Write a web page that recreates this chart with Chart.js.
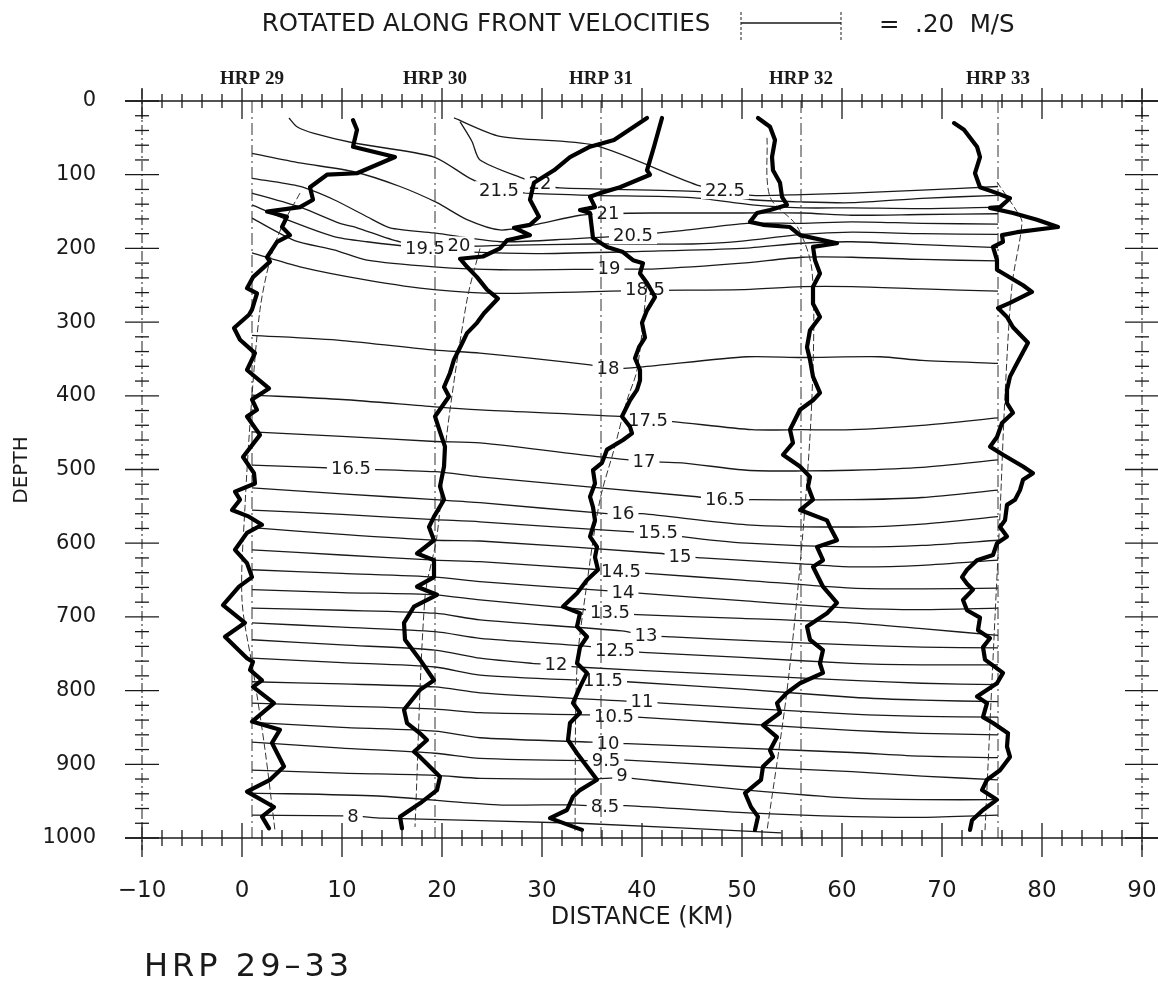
<!DOCTYPE html>
<html><head><meta charset="utf-8">
<script src="https://cdn.jsdelivr.net/npm/chart.js@4.4.0/dist/chart.umd.min.js"></script>
<style>html,body{margin:0;padding:0;background:#fff;}canvas{display:block;}</style>
</head><body>
<canvas id="c" width="1158" height="981"></canvas>
<script>
// ---------------- DATA ----------------
const stationNames = ['HRP 29','HRP 30','HRP 31','HRP 32','HRP 33'];
const stationDist = [1.0, 19.3, 35.9, 55.9, 75.6];
const xTicks = [-10,0,10,20,30,40,50,60,70,80,90];
const yTicks = [0,100,200,300,400,500,600,700,800,900,1000];
const scaleBarKm = 10; // 0.20 m/s

// velocity profiles [distance km, depth m]
const prof29 = [[11.1,26],[11.5,39],[11.1,62],[15.3,76],[11.5,98],[8.5,100],[6.8,117],[7.1,134],[5.8,144],[2.5,150],[4.5,157],[4.0,171],[4.8,182],[3.5,191],[2.5,212],[2.8,218],[1.1,239],[0.5,254],[1.5,261],[1.0,283],[0.7,290],[-0.8,308],[-0.2,324],[1.3,342],[0.5,365],[2.7,390],[1.0,405],[1.5,419],[0.5,428],[1.8,453],[0.1,483],[1.2,505],[1.3,519],[-0.7,530],[-0.2,541],[-1.0,555],[0.7,564],[2.0,575],[0.5,586],[-0.7,609],[0.5,627],[1.0,646],[-0.3,659],[-1.9,684],[0.3,708],[-1.7,727],[0.5,756],[1.1,761],[0.8,772],[2.0,786],[1.1,795],[3.2,817],[1.0,842],[3.8,853],[3.0,871],[4.2,903],[2.8,921],[0.5,937],[3.2,958],[2.0,971],[2.7,987]];
const prof30 = [[40.5,23],[37.2,53],[34.8,62],[32.8,76],[31.2,94],[29.2,111],[28.8,134],[29.7,157],[28.8,168],[27.2,172],[28.8,182],[26.5,189],[25.8,200],[24.1,211],[21.8,214],[22.5,225],[23.5,239],[24.5,256],[25.6,268],[24.2,288],[23.5,301],[22.5,315],[22.0,329],[21.2,351],[20.8,369],[20.2,388],[20.7,401],[19.3,428],[19.8,449],[20.3,469],[20.2,496],[19.8,523],[20.2,541],[19.2,564],[18.7,578],[19.2,596],[17.5,614],[19.2,623],[19.2,646],[17.5,659],[19.5,670],[17.2,686],[16.2,708],[16.3,731],[17.8,758],[19.2,786],[17.8,799],[16.2,826],[16.5,844],[17.8,858],[18.5,867],[17.2,883],[17.8,890],[19.8,917],[19.5,935],[17.8,953],[15.8,971],[16.0,987]];
const prof31 = [[42.0,23],[41.2,62],[40.5,94],[40.8,100],[37.8,117],[35.8,125],[34.8,130],[35.3,144],[33.8,148],[34.8,152],[35.1,186],[36.5,198],[38.1,205],[39.1,216],[40.1,220],[39.8,234],[40.5,247],[41.3,266],[40.5,284],[40.0,301],[40.3,321],[39.7,334],[39.3,349],[39.8,365],[39.8,379],[39.5,392],[38.8,406],[38.0,428],[38.8,442],[39.0,451],[38.1,460],[36.5,473],[36.0,491],[35.1,501],[35.3,519],[34.8,537],[35.1,551],[35.3,569],[34.8,591],[35.5,605],[35.3,619],[35.6,636],[34.5,650],[33.5,668],[32.1,686],[33.8,695],[33.5,713],[34.5,727],[33.8,741],[33.5,763],[34.5,776],[33.8,795],[33.1,817],[33.8,830],[32.8,844],[32.6,867],[33.5,885],[34.5,903],[35.5,921],[33.8,935],[33.1,944],[32.5,962],[30.8,973],[34.0,989]];
const prof32 = [[51.6,23],[52.8,35],[53.3,53],[53.0,76],[53.1,94],[53.8,111],[54.0,130],[54.5,141],[52.8,148],[51.5,152],[50.8,164],[52.1,168],[54.8,171],[55.8,182],[59.5,193],[57.1,198],[57.3,216],[57.8,234],[57.1,252],[57.1,275],[57.8,293],[56.8,311],[56.5,334],[56.8,351],[57.1,374],[57.8,396],[57.1,406],[55.8,419],[54.8,446],[55.1,464],[54.1,480],[55.8,496],[56.8,510],[56.6,523],[57.1,541],[55.8,555],[58.5,569],[58.8,578],[59.5,596],[57.5,605],[58.1,623],[57.1,632],[58.1,659],[59.5,681],[58.5,695],[56.5,713],[56.8,731],[58.1,745],[57.8,763],[58.1,776],[55.8,790],[54.5,803],[53.5,817],[53.8,830],[52.1,847],[53.5,863],[52.8,881],[53.1,890],[52.1,903],[51.9,921],[50.3,939],[50.9,958],[51.6,971],[51.3,989]];
const prof33 = [[71.2,30],[72.2,39],[73.5,62],[73.8,76],[73.3,98],[73.8,117],[75.5,125],[76.8,132],[75.8,144],[74.8,145],[77.1,152],[79.5,161],[81.6,171],[77.5,178],[76.0,182],[76.1,191],[75.1,198],[75.5,216],[75.5,229],[78.1,250],[79.0,259],[76.8,274],[75.6,281],[76.5,293],[77.1,307],[78.6,328],[77.3,361],[76.8,374],[76.5,392],[76.5,410],[77.1,423],[76.0,437],[75.5,456],[74.8,469],[76.1,480],[78.1,496],[79.1,505],[78.1,514],[77.8,528],[77.3,541],[76.5,548],[76.3,569],[75.8,578],[76.5,591],[75.5,600],[75.1,616],[73.5,623],[72.5,636],[72.0,646],[72.5,655],[73.1,663],[72.1,677],[72.5,691],[73.8,701],[73.6,718],[74.8,729],[74.1,741],[74.3,758],[76.1,776],[75.5,790],[73.5,808],[74.5,817],[74.1,836],[75.1,844],[76.6,858],[76.5,876],[76.8,890],[75.8,908],[74.5,921],[74.0,935],[75.5,948],[74.1,962],[73.0,976],[72.8,989]];

// thin reference lines near each station
const thin29 = [[5.8,125],[4.0,170],[2.8,216],[1.8,283],[1.0,400],[0.3,550],[0.0,677],[1.2,780],[2.3,880],[3.3,990]];
const thin30 = [[23.8,200],[22.5,270],[20.5,450],[19.5,590],[18.3,673],[17.3,985]];
const thin31 = [[40.5,250],[39.5,365],[38.5,406],[37.2,473],[35.8,541],[34.5,654],[33.5,768],[33.3,990]];
const thin32 = [[52.5,50],[52.8,130],[55.5,170],[57.0,230],[57.0,400],[56.0,600],[54.5,800],[52.5,990]];
const thin33 = [[75.5,110],[77.5,150],[78.0,165],[77.0,250],[76.3,400],[75.8,560],[75.3,700],[74.3,990]];

// isotherms [distance km, depth m]
const iso22_5 = [[21.2,23],[25.8,48],[35.2,60],[45.5,114],[48.3,121],[51,128],[56,127],[61,125],[68,121],[75.6,116]];
const iso22 = [[21.8,28],[23.0,55],[23.8,80],[28.1,105],[29.8,112],[31.8,118],[45.8,123],[51,134],[56,137],[61,138],[68,132],[75.6,128]];
const iso21_5 = [[4.7,23],[5.5,35],[7.2,44],[11.2,57],[19.2,76],[22.8,105],[25.7,121],[28.5,125],[35,128],[45,131],[51,141],[56,145],[61,145],[68,146],[75.6,144]];
const iso21 = [[1,71],[5.8,84],[11.2,96],[15.8,116],[19.5,138],[22.5,161],[25.8,175],[29.2,168],[33.8,155],[36.6,153],[41,152],[50,152],[56,152],[61,155],[68,154],[75.6,153]];
const iso20_5 = [[1,105],[5.8,116],[9.2,134],[12.5,157],[14.8,172],[19.2,179],[25.8,191],[33,187],[39.1,182],[44,176],[50.5,166],[56,166],[61,164],[68,166],[75.6,167]];
const iso20 = [[1,125],[5.8,144],[9.8,166],[11.5,172],[15.8,191],[21.5,197],[25.8,196],[35,194],[45,194],[50,190],[56,181],[61,178],[68,180],[75.6,181]];
const iso19_5 = [[1,141],[4.5,161],[9.2,184],[12.5,191],[18.5,200],[23,205],[30,207],[40,204],[50,200],[56,193],[61,191],[68,195],[75.6,199]];
const iso19 = [[1,159],[5.2,189],[9.2,202],[12.5,216],[19.2,225],[25.8,229],[36.7,228],[41,228],[50,220],[56,212],[61,212],[68,215],[75.6,217]];
const iso18_5 = [[1,206],[5.8,225],[12.5,243],[19.2,256],[25.8,261],[40.3,257],[50,256],[56,252],[61,252],[68,255],[75.6,258]];
const iso18 = [[1,318],[10,325],[19.3,338],[23.8,342],[34.8,358],[36.6,363],[39.8,361],[50.5,347],[56,348],[63.8,347],[68,352],[75.6,356]];
const iso17_5 = [[1,399],[10,405],[19.3,415],[23.8,419],[37.8,428],[40.6,433],[43.1,435],[51,446],[56,446],[61,446],[68,440],[75.6,430]];
const iso17 = [[1,449],[10,455],[19.3,462],[23.8,464],[35.8,483],[40.2,489],[44,491],[50.5,501],[56,502],[61,501],[68,497],[75.6,487]];
const iso16_5 = [[1,494],[10.9,499],[19.3,503],[23.8,510],[45.5,537],[48.3,541],[51,541],[61,541],[68,538],[75.6,528]];
const iso16 = [[1,525],[10,533],[19.3,541],[23.8,545],[36.5,560],[38.1,560],[40,560],[50.5,575],[61,578],[68,574],[75.6,564]];
const iso15_5 = [[1,555],[10,561],[19.3,568],[23.8,571],[39.5,585],[41.6,585],[44,591],[50.5,600],[61,605],[68,603],[75.6,596]];
const iso15 = [[1,579],[10,588],[19.3,596],[23.8,597],[42,614],[43.8,618],[46,620],[56,628],[61,632],[68,630],[75.6,623]];
const iso14_5 = [[1,609],[10,616],[19.3,623],[23.8,625],[35.8,636],[37.9,638],[40.5,641],[50,650],[61,661],[68,662],[75.6,661]];
const iso14 = [[1,636],[10,641],[19.3,646],[23.8,652],[36,664],[38.1,666],[40,668],[50,678],[61,688],[68,690],[75.6,688]];
const iso13_5 = [[1,663],[10,667],[19.3,670],[23.8,677],[35,691],[36.8,694],[39.5,697],[50,702],[61,708],[68,716],[75.6,725]];
const iso13 = [[1,688],[10,691],[19.3,695],[23.8,704],[38,719],[40.4,725],[43,727],[52,733],[61,738],[68,741],[75.6,742]];
const iso12_5 = [[1,708],[10,714],[19.3,720],[23.8,729],[35.5,741],[37.3,746],[40,748],[50,755],[61,763],[68,765],[75.6,765]];
const iso12 = [[1,731],[10,738],[19.3,745],[23.8,756],[29,763],[31.4,765],[33.5,768],[45,776],[61,786],[68,790],[75.6,792]];
const iso11_5 = [[1,756],[10,762],[19.3,768],[23.8,779],[34,786],[36.1,786],[38.5,788],[50,798],[61,809],[68,813],[75.6,815]];
const iso11 = [[1,788],[10,791],[19.3,795],[23.8,803],[38,814],[40,815],[42,817],[52,825],[61,832],[68,835],[75.6,836]];
const iso10_5 = [[1,817],[10,821],[19.3,825],[23.8,830],[35,833],[37.2,835],[39.5,836],[50,845],[61,854],[68,858],[75.6,860]];
const iso10 = [[1,843],[10,850],[19.3,855],[23.8,864],[35,870],[36.6,872],[38.5,872],[50,878],[61,884],[68,889],[75.6,891]];
const iso9_5 = [[1,870],[10,878],[19.3,885],[23.8,892],[34.5,895],[36.4,894],[38,894],[50,903],[61,910],[68,916],[75.6,921]];
const iso9 = [[1,908],[10,912],[19.3,915],[23.8,919],[35,920],[38,918],[41,922],[50.5,935],[61,946],[68,948],[75.6,948]];
const iso8_5 = [[1,939],[13.6,943],[25.6,955],[33,955],[36.3,957],[38.4,956],[50.6,966],[61,971],[68,972],[75.6,969]];
const iso8 = [[1,969],[11.1,970],[14,973],[33.7,980],[53.9,993]];

// contour labels
const labelText  = ['22.5','22','21.5','21','20.5','19.5','20','19','18.5','18','17.5','17','16.5','16.5','16','15.5','15','14.5','14','13.5','13','12.5','12','11.5','11','10.5','10','9.5','9','8.5','8'];
const labelDist  = [48.3,29.8,25.7,36.6,39.1,18.3,21.7,36.7,40.3,36.6,40.6,40.2,10.9,48.3,38.1,41.6,43.8,37.9,38.1,36.8,40.4,37.3,31.4,36.1,40.0,37.2,36.6,36.4,38.0,36.3,11.1];
const labelDepth = [121,112,121,153,182,200,196,227,256,363,433,489,499,541,560,585,618,638,666,694,725,746,765,786,815,835,872,894,915,957,970];

// ---------------- CHART ----------------
const FONT = "'DejaVu Sans ExtraLight','DejaVu Sans',sans-serif";
const INK = '#1a1a1a';
const AREA = {left: 142, right: 1142, top: 101, bottom: 838};
const toXY = a => a.map(p => ({x: p[0], y: p[1]}));
const profiles = [prof29, prof30, prof31, prof32, prof33];
const thins = [thin29, thin30, thin31, thin32, thin33];
const isos = [iso22_5, iso22, iso21_5, iso21, iso20_5, iso20, iso19_5, iso19, iso18_5, iso18, iso17_5, iso17, iso16_5, iso16, iso15_5, iso15, iso14_5, iso14, iso13_5, iso13, iso12_5, iso12, iso11_5, iso11, iso10_5, iso10, iso9_5, iso9, iso8_5, iso8];

const datasets = [];
isos.forEach(a => datasets.push({data: toXY(a), borderColor: INK, borderWidth: 1.3, tension: 0.25, pointRadius: 0, order: 4}));
stationDist.forEach(s => datasets.push({data: [{x: s, y: 0}, {x: s, y: 1000}], borderColor: '#333', borderWidth: 1, borderDash: [12, 4, 2, 4], pointRadius: 0, order: 2}));
thins.forEach(a => datasets.push({data: toXY(a), borderColor: '#333', borderWidth: 1, borderDash: [7, 3], tension: 0.3, pointRadius: 0, order: 1}));
profiles.forEach(a => datasets.push({data: toXY(a), borderColor: '#000', borderWidth: 4.2, borderJoinStyle: 'round', borderCapStyle: 'round', tension: 0, pointRadius: 0, order: 0}));

const labelPlugin = {
  id: 'contourLabels',
  afterDatasetDraw(chart, args) {
    if (args.index !== 0) return;
    const {ctx} = chart, xs = chart.scales.x, ys = chart.scales.y;
    ctx.save();
    ctx.font = '18px ' + FONT;
    ctx.textAlign = 'center'; ctx.textBaseline = 'middle';
    labelText.forEach((t, i) => {
      const px = xs.getPixelForValue(labelDist[i]), py = ys.getPixelForValue(labelDepth[i]);
      const w = ctx.measureText(t).width + 8;
      ctx.fillStyle = '#fff'; ctx.fillRect(px - w / 2, py - 9, w, 18);
      ctx.fillStyle = INK; ctx.fillText(t, px, py + 1);
    });
    ctx.restore();
  }
};

const framePlugin = {
  id: 'frame',
  afterDraw(chart) {
    const {ctx} = chart, xs = chart.scales.x, ys = chart.scales.y;
    const X = v => xs.getPixelForValue(v), Y = v => ys.getPixelForValue(v);
    ctx.save();
    ctx.strokeStyle = INK;
    const seg = (x1, y1, x2, y2) => { ctx.beginPath(); ctx.moveTo(x1, y1); ctx.lineTo(x2, y2); ctx.stroke(); };
    ctx.lineWidth = 1.6;
    seg(X(-10) - 17, Y(0), chart.width, Y(0));
    seg(X(-10) - 17, Y(1000), chart.width, Y(1000));
    ctx.lineWidth = 1;
    ctx.setLineDash([10, 3, 2, 3]);
    seg(X(-10), Y(0) - 12, X(-10), Y(1000) + 12);
    seg(X(90), Y(0) - 12, X(90), Y(1000) + 12);
    ctx.setLineDash([]);
    ctx.lineWidth = 1.3;
    for (let v = -10; v <= 90; v += 2) {
      const maj = v % 10 === 0, px = X(v);
      if (maj) { seg(px, Y(0) - 13, px, Y(0) + 18); seg(px, Y(1000) - 15, px, Y(1000) + 19); }
      else { seg(px, Y(0) - 7, px, Y(0) + 7); seg(px, Y(1000) - 8, px, Y(1000) + 8); }
    }
    for (let v = 0; v <= 1000; v += 20) {
      const maj = v % 100 === 0, py = Y(v), L = maj ? 17 : 7;
      seg(X(-10) - L, py, X(-10) + L, py);
      seg(X(90) - L, py, X(90) + L, py);
    }
    ctx.fillStyle = INK;
    ctx.textBaseline = 'middle'; ctx.textAlign = 'center';
    ctx.font = '24.5px ' + FONT;
    ctx.fillText('ROTATED ALONG FRONT VELOCITIES', 486, 25);
    const bx0 = 741, bx1 = bx0 + (X(scaleBarKm) - X(0));
    ctx.lineWidth = 1.3;
    seg(bx0, 23, bx1, 23);
    ctx.lineWidth = 1;
    ctx.setLineDash([3, 2]);
    seg(bx0, 12, bx0, 42); seg(bx1, 12, bx1, 42);
    ctx.setLineDash([]);
    ctx.textAlign = 'left';
    ctx.fillText('=  .20  M/S', 879, 26);
    ctx.textAlign = 'center';
    ctx.font = "bold 19px 'Liberation Serif', serif";
    stationNames.forEach((n, i) => ctx.fillText(n, X(stationDist[i]), 79));
    ctx.font = '24px ' + FONT;
    ctx.fillText('DISTANCE (KM)', (X(-10) + X(90)) / 2, 918);
    ctx.save();
    ctx.translate(22, 470); ctx.rotate(-Math.PI / 2);
    ctx.font = '20px ' + FONT;
    ctx.fillText('DEPTH', 0, 0);
    ctx.restore();
    ctx.textAlign = 'left';
    ctx.font = '32px ' + FONT;
    ctx.letterSpacing = '4px';
    ctx.fillText('HRP 29\u201333', 144, 968);
    ctx.restore();
  }
};

const chart = new Chart(document.getElementById('c'), {
  type: 'scatter',
  data: {datasets},
  options: {
    responsive: false, animation: false, devicePixelRatio: 1,
    showLine: true,
    layout: {padding: {top: AREA.top, right: 1158 - AREA.right, bottom: 0, left: 0}},
    plugins: {legend: {display: false}, tooltip: {enabled: false}},
    scales: {
      x: {type: 'linear', min: -10, max: 90, position: 'bottom',
          afterFit: s => { s.height = 981 - AREA.bottom; s.paddingLeft = 0; s.paddingRight = 0; },
          afterBuildTicks: s => { s.ticks = xTicks.map(v => ({value: v})); },
          grid: {display: false}, border: {display: false},
          ticks: {padding: 31, maxRotation: 0, color: INK, font: {family: FONT, size: 23},
                  callback: v => v < 0 ? '\u2212' + Math.abs(v) : String(v)}},
      y: {type: 'linear', min: 0, max: 1000, reverse: true,
          afterFit: s => { s.width = AREA.left; s.paddingTop = 0; s.paddingBottom = 0; },
          afterBuildTicks: s => { s.ticks = yTicks.map(v => ({value: v})); },
          grid: {display: false}, border: {display: false},
          ticks: {padding: 38, color: INK, font: {family: FONT, size: 21}, callback: v => String(v)}}
    }
  },
  plugins: [labelPlugin, framePlugin]
});
// make the plot area match the reference frame exactly
for (let k = 0; k < 4; k++) {
  const ca = chart.chartArea, p = chart.config.options.layout.padding;
  const dR = ca.right - AREA.right, dT = ca.top - AREA.top, dB = ca.bottom - AREA.bottom;
  if (Math.abs(dR) < 0.5 && Math.abs(dT) < 0.5 && Math.abs(dB) < 0.5) break;
  p.right += dR; p.top -= dT; p.bottom += dB;
  chart.update();
}
</script>
</body></html>
